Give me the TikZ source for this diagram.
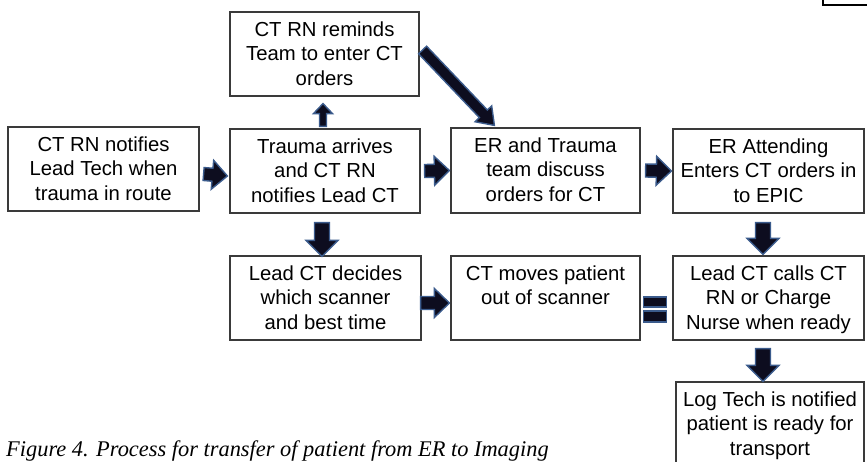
\documentclass[tikz,border=0pt]{standalone}
\usepackage{fontspec}
\setmainfont{Liberation Sans}
\newfontfamily\capfont{Liberation Serif}
\usetikzlibrary{calc,fit}

\definecolor{boxline}{HTML}{3A3A3A}
\definecolor{arrowfill}{HTML}{0D0D1F}
\definecolor{arrowedge}{HTML}{3B5B8C}

% Block arrow from #1 to #2: shaft half-width #3, head half-width #4, head length #5
\newcommand{\blockarrow}[5]{%
  \coordinate (ba-s) at #1;
  \coordinate (ba-e) at #2;
  \coordinate (ba-m) at ($(ba-e)!#5!(ba-s)$);
  \draw[blockarrowstyle]
    ($(ba-s)!#3!90:(ba-e)$) -- ($(ba-m)!#3!-90:(ba-s)$) -- ($(ba-m)!#4!-90:(ba-s)$)
    -- (ba-e) -- ($(ba-m)!#4!90:(ba-s)$) -- ($(ba-m)!#3!90:(ba-s)$)
    -- ($(ba-s)!#3!-90:(ba-e)$) -- cycle;
}

\tikzset{
  stepbox/.style={draw=boxline, line width=1.2pt, fill=white, inner sep=0pt},
  lbl/.style={anchor=north, align=center, inner sep=0pt, yshift=-10pt,
    font=\fontsize{20.3}{24.5}\selectfont},
  blockarrowstyle/.style={fill=arrowfill, draw=arrowedge, line width=1.4pt, line join=miter},
  eqbar/.style={fill=arrowfill, draw=arrowedge, line width=1.4pt},
}

\begin{document}
\begin{tikzpicture}[x=1pt,y=-1pt]
\useasboundingbox[fill=white] (0,0) rectangle (867,461);

% corner of a frame at the upper right
\node[draw=black, line width=2pt, inner sep=0pt, fit={(823,-40) (900,5)}] (frame) {};

% caption
\node[anchor=base west, inner sep=0pt, font=\capfont\itshape\fontsize{22.4}{26}\selectfont] (cap) at (6,456)
  {Figure 4. Process for transfer of patient from ER to Imaging};

% process steps
\node[stepbox, fit={(8,127) (199,211)}] (b1) {};
\node[lbl] (t1) at (b1.north) {CT RN notifies\\Lead Tech when\\trauma in route};

\node[stepbox, fit={(230,12) (419,96)}] (top) {};
\node[lbl] (ttop) at (top.north) {CT RN reminds\\Team to enter CT\\orders};

\node[stepbox, fit={(230,129) (420,213)}] (b2) {};
\node[lbl] (t2) at (b2.north) {Trauma arrives\\and CT RN\\notifies Lead CT};

\node[stepbox, fit={(451,128) (640,213)}] (b3) {};
\node[lbl] (t3) at (b3.north) {ER and Trauma\\team discuss\\orders for CT};

\node[stepbox, fit={(673,129) (864,213)}] (b4) {};
\node[lbl] (t4) at (b4.north) {ER Attending\\Enters CT orders in\\to EPIC};

\node[stepbox, fit={(230,256) (421,340)}] (b5) {};
\node[lbl] (t5) at (b5.north) {Lead CT decides\\which scanner\\and best time};

\node[stepbox, fit={(451,256) (640,340)}] (b6) {};
\node[lbl] (t6) at (b6.north) {CT moves patient\\out of scanner};

\node[stepbox, fit={(673,256) (864,340)}] (b7) {};
\node[lbl] (t7) at (b7.north) {Lead CT calls CT\\RN or Charge\\Nurse when ready};

\node[stepbox, fit={(676,382) (864,466)}] (b8) {};
\node[lbl] (t8) at (b8.north) {Log Tech is notified\\patient is ready for\\transport};

% connectors
\blockarrow{($(b1.east)+(4,5)$)}{($(b2.west)+(-2,5)$)}{6.5pt}{14.5pt}{15pt}
\blockarrow{($(b2.east)+(4,0)$)}{($(b3.west)+(-1,0)$)}{6.5pt}{14.5pt}{15pt}
\blockarrow{($(b3.east)+(5,0)$)}{($(b4.west)+(-1,0)$)}{6.5pt}{14.5pt}{15pt}
\blockarrow{($(b2.north)+(-2,-2)$)}{($(top.south)+(-1.5,7)$)}{3.5pt}{9.5pt}{10pt}
\blockarrow{($(b2.south)+(-3,9)$)}{($(b5.north)+(-3.5,1)$)}{7.5pt}{16pt}{16pt}
\blockarrow{($(b5.east)+(-1,5)$)}{($(b6.west)+(-1,5)$)}{6.5pt}{14.5pt}{15pt}
\blockarrow{($(b4.south)+(-5.5,9)$)}{($(b7.north)+(-5.5,-1)$)}{7.5pt}{16pt}{16pt}
\blockarrow{($(b7.south)+(-5.5,8)$)}{($(b8.north)+(-7,0)$)}{7.5pt}{16pt}{16pt}
\blockarrow{($(top.east)+(3,-4)$)}{($(b3.north west)+(44,-2)$)}{5.5pt}{11.5pt}{16pt}

% equality sign between the two steps on the lower row
\draw[eqbar] ($(b6.east)+(3,-1)$) rectangle ($(b7.west)+(-6,9)$);
\draw[eqbar] ($(b6.east)+(3,13)$) rectangle ($(b7.west)+(-6,24)$);
\end{tikzpicture}
\end{document}
